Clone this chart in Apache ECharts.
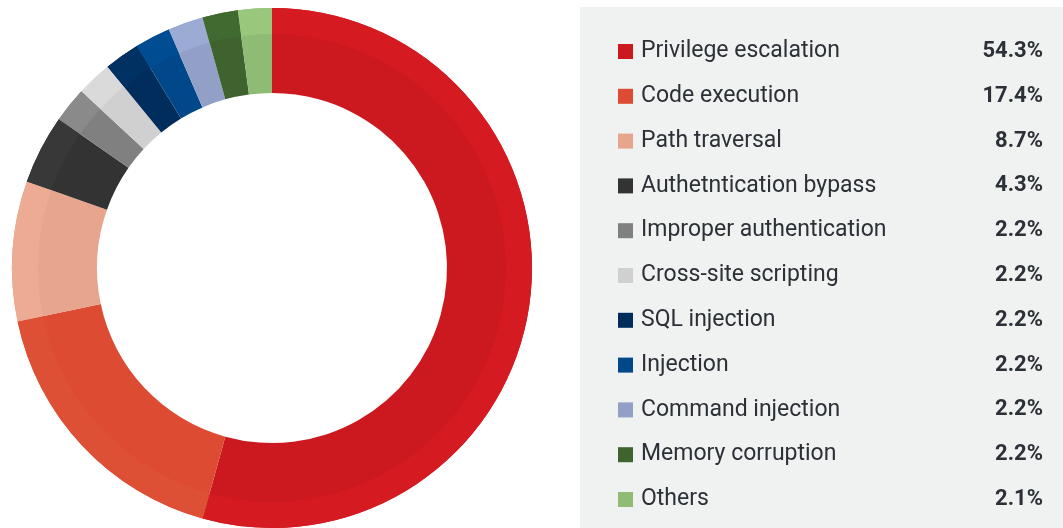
<!DOCTYPE html>
<html><head><meta charset="utf-8">
<script src="https://cdn.jsdelivr.net/npm/echarts@6/dist/echarts.min.js"></script>
<style>html,body{margin:0;padding:0;background:#fff}#c{width:1063px;height:528px}</style>
</head><body><div id="c"></div>
<script>
const categories = ["Privilege escalation","Code execution","Path traversal","Authetntication bypass","Improper authentication","Cross-site scripting","SQL injection","Injection","Command injection","Memory corruption","Others"];
const values = [54.3,17.4,8.7,4.3,2.2,2.2,2.2,2.2,2.2,2.2,2.1];
const valueLabels = ["54.3%","17.4%","8.7%","4.3%","2.2%","2.2%","2.2%","2.2%","2.2%","2.2%","2.1%"];
const colors = ["#cc1920","#dc4b32","#e8a58e","#333333","#808080","#d0d0d0","#002d5c","#004889","#929fc6","#3e632f","#8fbc74"];
const bandColors = ["#d61a21","#de5036","#eeab93","#383838","#8a8a8a","#dadada","#003163","#004c92","#9babd4","#416a31","#99c77c"];

const chart = echarts.init(document.getElementById('c'), null, {renderer:'canvas'});
const mainData = categories.map((n,i)=>({name:n,value:values[i],itemStyle:{color:colors[i]}}));
const bandData = categories.map((n,i)=>({name:n,value:values[i],itemStyle:{color:bandColors[i]}}));
const labelMap = {};
categories.forEach((n,i)=>labelMap[n]=valueLabels[i]);
chart.setOption({
  animation:false,
  graphic:[{type:'rect',left:580,top:7,shape:{width:483,height:521},style:{fill:'#f0f1f1'},z:-10}],
  legend:{
    type:'plain',orient:'vertical',left:613,top:35,height:490,itemWidth:15,itemHeight:15,itemGap:21.8,
    icon:'rect',selectedMode:false,
    data:categories,
    formatter:n=>'{n|'+n+'}{v|'+labelMap[n]+'}',
    textStyle:{
      rich:{
        n:{fontFamily:'Roboto',fontSize:23,color:'#2b3136',width:322,lineHeight:24,padding:[0,0,0,3]},
        v:{fontFamily:'Roboto',fontSize:22,fontWeight:'bold',color:'#2b3136',width:80,align:'right',lineHeight:24}
      }
    }
  },
  series:[
    {type:'pie',center:[272,268],radius:[175,260],startAngle:90,clockwise:true,label:{show:false},labelLine:{show:false},silent:true,data:mainData},
    {type:'pie',center:[272,268],radius:[234,260],startAngle:90,clockwise:true,label:{show:false},labelLine:{show:false},silent:true,legendHoverLink:false,data:bandData,z:3}
  ]
});
</script></body></html>
